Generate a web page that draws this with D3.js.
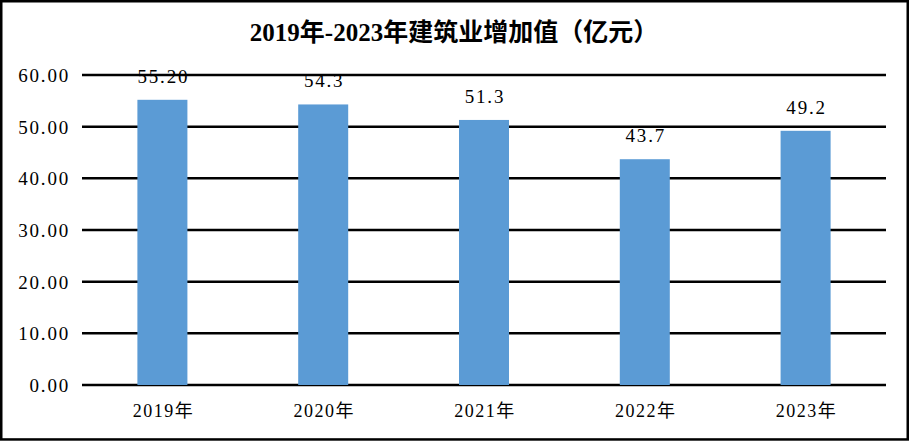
<!DOCTYPE html>
<html><head><meta charset="utf-8">
<script src="https://cdn.jsdelivr.net/npm/d3@7"></script>
<style>body{margin:0;background:#fff}svg{display:block}</style>
</head><body>
<script>
const title = "2019年-2023年建筑业增加值（亿元）";
const categories = ["2019年","2020年","2021年","2022年","2023年"];
const values = [55.20, 54.3, 51.3, 43.7, 49.2];
const valueLabels = ["55.20","54.3","51.3","43.7","49.2"];
const yTicks = [0,10,20,30,40,50,60];
const yTickLabels = ["0.00","10.00","20.00","30.00","40.00","50.00","60.00"];

const W = 910, H = 441;
const svg = d3.select("body").append("svg").attr("width", W).attr("height", H);
svg.append("rect").attr("width", W).attr("height", H).attr("fill", "#fff");

const x = d3.scaleBand().domain(categories).range([82, 886]).paddingInner(0.689).paddingOuter(0.3445);
const y = d3.scaleLinear().domain([0, 60]).range([385, 75]);

const numFont = "'Liberation Serif', 'Noto Sans CJK SC', serif";

// gridlines
svg.append("g").selectAll("line").data(yTicks).join("line")
  .attr("x1", 82).attr("x2", 886)
  .attr("y1", d => y(d)).attr("y2", d => y(d))
  .attr("stroke", "#000").attr("stroke-width", 2.5);

// y tick labels
svg.append("g").selectAll("text").data(yTicks).join("text")
  .attr("x", 70).attr("y", d => y(d)).attr("dy", "0.36em")
  .attr("text-anchor", "end")
  .attr("font-family", numFont).attr("font-size", 19).attr("letter-spacing", 1.8)
  .attr("fill", "#000")
  .text((d, i) => yTickLabels[i]);

// bars
svg.append("g").selectAll("rect").data(values).join("rect")
  .attr("x", (d, i) => x(categories[i]))
  .attr("width", x.bandwidth())
  .attr("y", d => y(d))
  .attr("height", d => y(0) - y(d))
  .attr("fill", "#5B9BD5");

// value labels
svg.append("g").selectAll("text").data(values).join("text")
  .attr("x", (d, i) => x(categories[i]) + x.bandwidth() / 2 + 1)
  .attr("y", d => y(d) - 17)
  .attr("text-anchor", "middle")
  .attr("font-family", numFont).attr("font-size", 19).attr("letter-spacing", 1.8)
  .attr("fill", "#000")
  .text((d, i) => valueLabels[i]);

// category labels
svg.append("g").selectAll("text").data(categories).join("text")
  .attr("x", d => x(d) + x.bandwidth() / 2 + 1)
  .attr("y", 417)
  .attr("text-anchor", "middle")
  .attr("font-family", numFont).attr("font-size", 18).attr("letter-spacing", 1.5)
  .attr("fill", "#000")
  .text(d => d);

// title
svg.append("text").attr("x", 454).attr("y", 41)
  .attr("text-anchor", "middle")
  .attr("font-family", numFont).attr("font-size", 25).attr("font-weight", "bold")
  .attr("fill", "#000")
  .text(title);

// border
svg.append("rect").attr("x", 1.25).attr("y", 1.25).attr("width", 906.5).attr("height", 438.2)
  .attr("fill", "none").attr("stroke", "#000").attr("stroke-width", 2.5);
</script>
</body></html>
